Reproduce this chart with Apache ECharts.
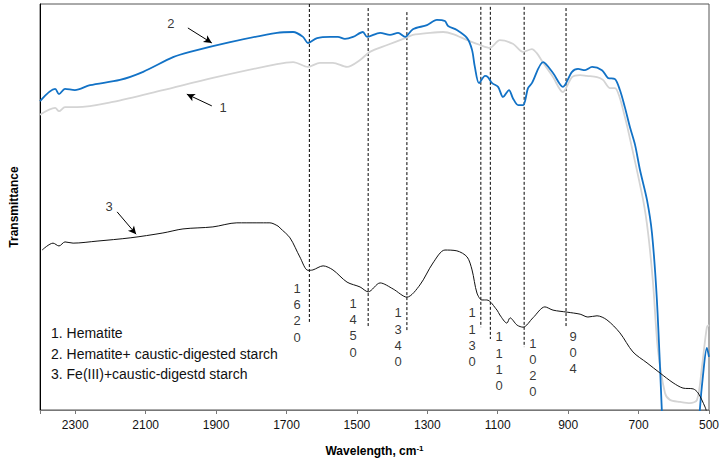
<!DOCTYPE html>
<html>
<head>
<meta charset="utf-8">
<title>FTIR spectra</title>
<script src="https://cdn.jsdelivr.net/npm/echarts/dist/echarts.min.js"></script>
<style>
  html, body { margin: 0; padding: 0; background: #fff; }
  #chart { width: 723px; height: 463px; }
</style>
</head>
<body>
<div id="chart"></div>
<script>
// spectra: [wavenumber cm-1, transmittance (a.u.)]
const hematite = [
  [2400, 72.7], [2357, 74.4], [2346, 73.6], [2329, 74.6], [2295, 74.6], [2193, 75.9],
  [2051, 78.8], [1909, 81.8], [1727, 85.2], [1681, 85.7], [1639, 84.5], [1605, 85.5],
  [1568, 85.5], [1528, 84.5], [1491, 86.2], [1463, 88.2], [1414, 89.9], [1363, 91.6],
  [1341, 92.4], [1292, 92.9], [1255, 93.1], [1227, 92.6], [1187, 91.1], [1150, 89.9],
  [1122, 89.2], [1094, 91.1], [1057, 90.2], [1028, 88.2], [1003, 88.9], [989, 87.9],
  [971, 85.5], [943, 82.0], [915, 78.3], [889, 82.0], [866, 82.5], [847, 82.3],
  [818, 82.0], [801, 81.3], [781, 79.3], [767, 79.3], [753, 76.8], [739, 72.2],
  [730, 69.0], [687, 51.7], [673, 43.6], [659, 31.3], [645, 14.8], [625, 4.2],
  [611, 2.5], [582, 2.0], [554, 1.7], [534, 2.5], [520, 10.6], [506, 20.4], [500, 20.9]
]
const hematiteStarch = [
  [2400, 76.1], [2357, 79.1], [2346, 77.8], [2329, 79.1], [2301, 78.8], [2258, 80.0],
  [2173, 81.3], [2107, 83.3], [2022, 86.9], [1974, 88.2], [1860, 90.6], [1727, 92.9],
  [1681, 93.1], [1653, 91.9], [1639, 90.4], [1613, 91.6], [1576, 91.9], [1554, 91.9],
  [1534, 91.4], [1511, 91.9], [1483, 93.1], [1471, 91.9], [1434, 92.9], [1406, 92.4],
  [1383, 92.9], [1363, 91.9], [1341, 93.8], [1301, 94.8], [1273, 96.1], [1250, 95.8],
  [1241, 94.6], [1216, 93.6], [1187, 91.6], [1173, 88.7], [1165, 84.5], [1153, 80.5],
  [1136, 82.3], [1128, 82.0], [1116, 80.5], [1099, 79.6], [1085, 77.1], [1068, 78.8],
  [1057, 76.8], [1042, 75.1], [1028, 75.1], [1014, 79.3], [1003, 80.5], [971, 85.7],
  [943, 83.0], [915, 79.6], [889, 83.3], [872, 84.0], [852, 83.7], [832, 84.5],
  [804, 83.7], [787, 81.8], [767, 81.5], [753, 78.8], [739, 74.6], [724, 69.5],
  [710, 65.3], [696, 59.1], [676, 51.7], [662, 43.6], [648, 27.1], [634, 0],
  [625, -20], [540, -20], [526, 0], [517, 8.6], [506, 15.3], [500, 13.1]
]
const feStarch = [
  [2394, 39.4], [2363, 41.1], [2346, 40.4], [2329, 41.4], [2306, 41.1], [2238, 41.6],
  [2144, 42.4], [2051, 43.6], [1994, 44.6], [1909, 45.1], [1841, 46.1], [1784, 46.1],
  [1747, 46.1], [1724, 45.3], [1718, 44.8], [1690, 42.4], [1662, 37.7], [1639, 34.4],
  [1625, 34.5], [1596, 35.5], [1568, 34.5], [1528, 31.5], [1491, 30.3], [1468, 29.1],
  [1434, 31.3], [1397, 29.8], [1358, 27.8], [1321, 30.8], [1284, 36.2], [1250, 39.4],
  [1216, 39.2], [1187, 37.7], [1173, 34.5], [1159, 28.8], [1145, 27.1], [1131, 27.1],
  [1102, 24.6], [1094, 23.4], [1074, 21.4], [1065, 22.7], [1045, 20.9], [1028, 20.4],
  [1000, 22.7], [966, 25.4], [943, 24.6], [903, 24.1], [866, 23.6], [844, 22.9],
  [818, 23.2], [790, 22.2], [753, 19.0], [716, 14.3], [676, 11.6], [639, 9.1],
  [602, 6.7], [574, 5.4], [545, 5.2], [531, 4.2], [511, 0.7], [506, -0.7]
]

// band markers
const peakLabels = ['1620', '1450', '1340', '1130', '1110', '1020', '904']
const peakLineX = [1635, 1468, 1358, 1148, 1121, 1025, 906]
const peakLineTop = [100, 99, 98, 99.3, 99.3, 99.3, 99]
const peakLineBottom = [21.7, 20.4, 19.6, 20.4, 17.5, 15.5, 20.4]
const peakTextAt = [[1670, 32.0], [1511, 28.3], [1383, 25.9], [1173, 25.9], [1096, 20.0], [1000, 18.5], [886, 20.2]]

// curve numbers and their arrows
const curveNames = ['1', '2', '3']
const curveNameAt = [[1880, 74.6], [2028, 95.1], [2204, 50.2]]
const arrowFrom = [[1912, 74.9], [1980, 94.1], [2181, 48.8]]
const arrowTo = [[1983, 77.8], [1912, 90.4], [2127, 43.3]]

const legendLines = ['1. Hematite', '2. Hematite+ caustic-digested starch', '3. Fe(III)+caustic-digestd starch']
const xTicks = { min: 500, max: 2400, step: 200 }

const font = '"Liberation Sans", Arial, sans-serif'
const chart = echarts.init(document.getElementById('chart'), null, { renderer: 'svg' })

const spectrum = (name, data, color, width) => ({
  name,
  type: 'line',
  data,
  smooth: 0.3,
  showSymbol: false,
  symbol: 'none',
  lineStyle: { color, width },
  silent: true,
  z: 3
})

const series = [
  spectrum('1', hematite, '#d4d4d4', 1.8),
  spectrum('2', hematiteStarch, '#1272c6', 1.8),
  spectrum('3', feStarch, '#111', 1)
]

// dashed band lines
peakLineX.forEach((x, i) => {
  series.push({
    type: 'line',
    data: [[x, peakLineTop[i]], [x, peakLineBottom[i]]],
    symbol: 'none',
    silent: true,
    lineStyle: { color: '#000', width: 1, type: [3, 2] },
    z: 2
  })
})

// band labels, digits stacked
series.push({
  type: 'scatter',
  symbolSize: 0,
  silent: true,
  itemStyle: { color: '#000' },
  data: peakTextAt.map((p, i) => ({ value: p, name: peakLabels[i] })),
  label: {
    show: true,
    position: [0, 0],
    align: 'center',
    verticalAlign: 'top',
    formatter: (p) => p.name.split('').join('\n'),
    fontFamily: font,
    fontSize: 13,
    lineHeight: 16.3,
    color: '#000'
  }
})

// curve numbers + arrows
series.push({
  type: 'scatter',
  symbolSize: 0,
  silent: true,
  itemStyle: { color: '#000' },
  data: curveNameAt.map((p, i) => ({ value: p, name: curveNames[i] })),
  label: {
    show: true,
    position: [0, 0],
    align: 'center',
    verticalAlign: 'middle',
    formatter: '{b}',
    fontFamily: font,
    fontSize: 13,
    color: '#000'
  },
  markLine: {
    silent: true,
    symbol: ['none', 'arrow'],
    symbolSize: [6, 8],
    label: { show: false },
    lineStyle: { color: '#000', width: 1, type: 'solid' },
    data: arrowFrom.map((p, i) => [{ coord: p }, { coord: arrowTo[i] }])
  }
})

const option = {
  animation: false,
  backgroundColor: '#fff',
  grid: {
    left: 40, right: 14, top: 4, bottom: 53,
    show: true,
    borderColor: '#555',
    borderWidth: 1
  },
  xAxis: {
    type: 'value',
    inverse: true,
    min: xTicks.min,
    max: xTicks.max,
    interval: xTicks.step,
    name: '{n|Wavelength, cm}{s|-1}',
    nameLocation: 'middle',
    nameGap: 34,
    nameTextStyle: {
      rich: {
        n: { fontFamily: font, fontSize: 12, fontWeight: 'bold', color: '#000' },
        s: { fontFamily: font, fontSize: 8, fontWeight: 'bold', color: '#000', verticalAlign: 'top', padding: [0, 0, 6, 0] }
      }
    },
    splitLine: { show: false },
    axisLine: { lineStyle: { color: '#777', width: 1 } },
    axisTick: { length: 4, lineStyle: { color: '#777' } },
    axisLabel: {
      margin: 9,
      fontFamily: font,
      fontSize: 12,
      color: '#111',
      formatter: (v) => (v === xTicks.max ? '' : String(v))
    }
  },
  yAxis: {
    type: 'value',
    min: 0,
    max: 100,
    name: 'Transmittance',
    nameLocation: 'middle',
    nameGap: 20,
    nameTextStyle: { fontFamily: font, fontSize: 12, fontWeight: 'bold', color: '#000' },
    splitLine: { show: false },
    axisLine: { show: true, lineStyle: { color: '#000', width: 1 } },
    axisTick: { show: false },
    axisLabel: { show: false }
  },
  graphic: [{
    type: 'text',
    left: 51,
    top: 323,
    style: {
      text: legendLines.join('\n'),
      font: '14px ' + font,
      lineHeight: 20.5,
      fill: '#111'
    }
  }],
  series
}

chart.setOption(option)
</script>
</body>
</html>
